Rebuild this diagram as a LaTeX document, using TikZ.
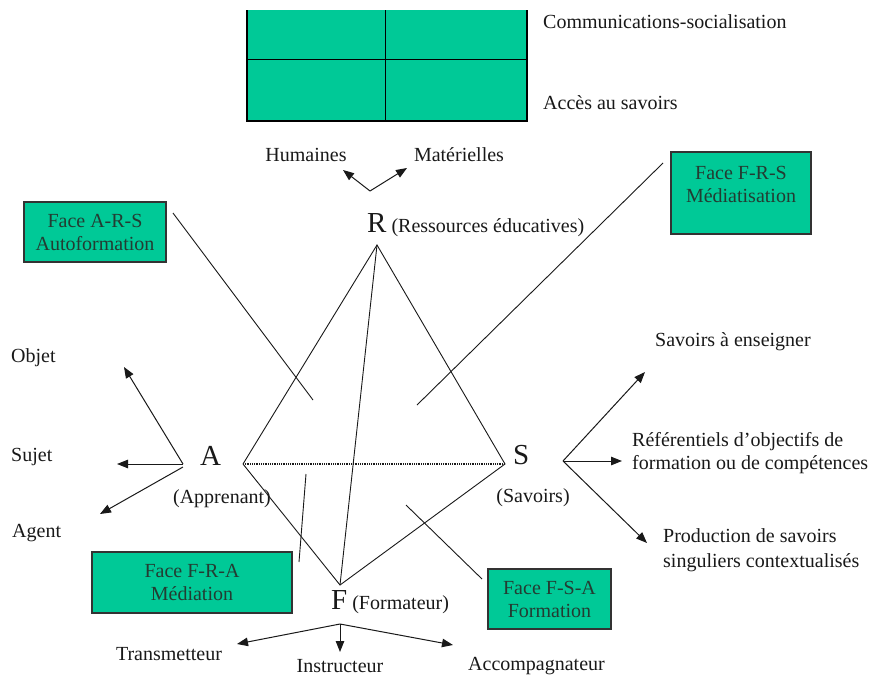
\documentclass[tikz,border=0pt]{standalone}
\usepackage{fontspec}
\setmainfont{Liberation Serif}
\usetikzlibrary{arrows.meta}
\definecolor{tealfill}{RGB}{0,201,151}
\definecolor{ink}{RGB}{25,25,25}
\definecolor{boxink}{RGB}{35,60,50}
\begin{document}
\begin{tikzpicture}[x=1pt,y=-1pt,
  txt/.style={font=\fontsize{20}{23}\selectfont, inner sep=0pt, text=ink},
  facebox/.style={draw=black!80, line width=1.2pt, fill=tealfill, inner sep=0pt,
    font=\fontsize{20}{23}\selectfont, text=boxink, align=center},
  facetxt/.style={font=\fontsize{20}{23}\selectfont, text=boxink, align=center, inner sep=0pt},
  edge/.style={draw=ink, line width=0.9pt},
  dotline/.style={draw=ink, line width=2pt, dash pattern=on 1pt off 0.8pt},
  arr/.style={draw=ink, line width=1pt, -{Triangle[length=11pt,width=8.5pt]}},
]
\fill[white] (0,0) rectangle (869,678);
\useasboundingbox (0,0) rectangle (869,678);

% top grid
\node[fill=tealfill, minimum width=280, minimum height=111, inner sep=0pt, anchor=north west] (grid) at (247,10) {};
\draw[line width=2pt] (grid.north west) -- (grid.south west) -- (grid.south east) -- (grid.north east);
\draw[line width=1pt] ([xshift=138pt]grid.north west) -- ([xshift=138pt]grid.south west);
\draw[line width=1pt] ([yshift=-49pt]grid.north west) -- ([yshift=-49pt]grid.north east);
\node[txt, anchor=west] (comm) at (543,22) {Communications-socialisation};
\node[txt, anchor=west] (acces) at (543,103) {Accès au savoirs};

% resources
\node[txt] (hum) at (306,155) {Humaines};
\node[txt] (mat) at (459,155) {Matérielles};
\coordinate (hm) at (370,191);
\coordinate (humtip) at (343,170);
\coordinate (mattip) at (407,168);
\draw[arr] (hm) -- (humtip);
\draw[arr] (hm) -- (mattip);

% vertices
\node[txt, anchor=base west] (Rlab) at (367,232) {{\fontsize{29}{29}\selectfont R} (Ressources éducatives)};
\coordinate (R) at (377,245);
\coordinate (A) at (243,464);
\coordinate (S) at (505,464);
\coordinate (F) at (340,585);
\draw[edge] (A) -- (R) -- (S) -- (F) -- (A);
\draw[edge] (R) -- (F);
\draw[dotline] (A) -- (S);

\node[txt, anchor=base west] (Alab) at (200,465) {\fontsize{29}{29}\selectfont A};
\node[txt] (appr) at (222,499) {(Apprenant)};
\node[txt, anchor=base west] (Slab) at (513,464) {\fontsize{29}{29}\selectfont S};
\node[txt] (sav) at (533,498) {(Savoirs)};
\node[txt, anchor=base west] (Flab) at (331,609) {{\fontsize{29}{29}\selectfont F} (Formateur)};

% faces
\node[facebox, minimum width=142, minimum height=60] (ars) at (95,232) {Face A-R-S\\Autoformation};
\node[facebox, minimum width=140, minimum height=82] (frs) at (741,193) {};
\node[facetxt] (frst) at (741,184) {Face F-R-S\\Médiatisation};
\node[facebox, minimum width=200, minimum height=61] (fra) at (192,582.5) {Face F-R-A\\Médiation};
\node[facebox, minimum width=123, minimum height=60] (fsa) at (549.5,599) {Face F-S-A\\Formation};

\coordinate (ars1) at (173,213);
\coordinate (ars2) at (313,400);
\coordinate (frs1) at (663,163);
\coordinate (frs2) at (417,405);
\coordinate (fra1) at (306,474);
\coordinate (fra2) at (299,562);
\coordinate (fsa1) at (406,505);
\coordinate (fsa2) at (482,579);
\draw[edge] (ars1) -- (ars2);
\draw[edge] (frs1) -- (frs2);
\draw[edge] (fra1) -- (fra2);
\draw[edge] (fsa1) -- (fsa2);

% learner arrows
\node[txt, anchor=west] (objet) at (11,358) {Objet};
\node[txt, anchor=west] (sujet) at (11,457) {Sujet};
\node[txt, anchor=west] (agent) at (12,533) {Agent};
\coordinate (a0) at (183,464);
\coordinate (a1) at (183,467);
\coordinate (objtip) at (124,367);
\coordinate (sujtip) at (117,464);
\coordinate (agtip) at (100,514);
\draw[arr] (a0) -- (objtip);
\draw[arr] (a0) -- (sujtip);
\draw[arr] (a1) -- (agtip);

% knowledge arrows
\node[txt, anchor=west] (sae) at (655,342) {Savoirs à enseigner};
\node[txt, anchor=west, align=left] (ref) at (632,453.5) {Référentiels d’objectifs de\\formation ou de compétences};
\node[txt, anchor=west, align=left, font=\fontsize{20}{25}\selectfont] (prod) at (663,550.5) {Production de savoirs\\singuliers contextualisés};
\coordinate (s0) at (563,461);
\coordinate (saetip) at (645,372);
\coordinate (reftip) at (622,461);
\coordinate (prodtip) at (647,543);
\draw[arr] (s0) -- (saetip);
\draw[arr] (s0) -- (reftip);
\draw[arr] (s0) -- (prodtip);

% trainer arrows
\node[txt] (trans) at (169,654) {Transmetteur};
\node[txt] (instr) at (340,666) {Instructeur};
\node[txt, anchor=west] (accomp) at (468,666) {Accompagnateur};
\coordinate (f0) at (340,624);
\coordinate (transtip) at (237,644);
\coordinate (instrtip) at (340,652);
\coordinate (accomptip) at (453,645);
\draw[arr] (f0) -- (transtip);
\draw[arr] (f0) -- (instrtip);
\draw[arr] (f0) -- (accomptip);
\end{tikzpicture}
\end{document}
